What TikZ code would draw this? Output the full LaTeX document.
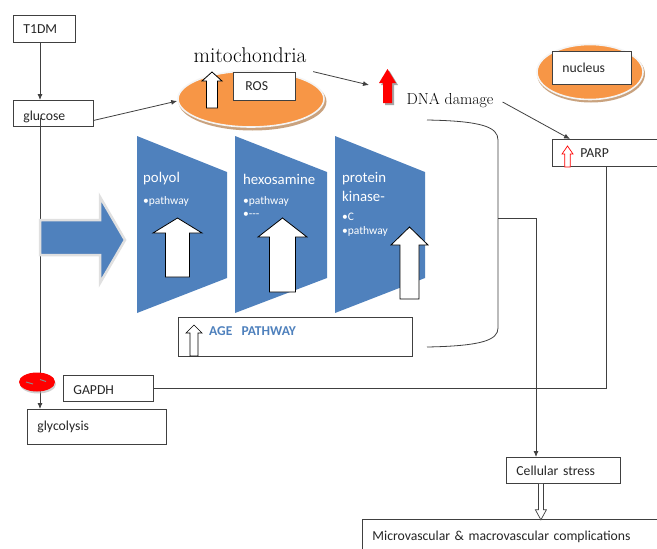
\documentclass[tikz,border=0pt]{standalone}
\usepackage{fontspec}
\newfontfamily\cfont{Carlito}
\usetikzlibrary{shapes.geometric,arrows.meta,calc}
\definecolor{pblue}{HTML}{4F81BD}
\definecolor{porange}{HTML}{F79646}
\definecolor{lc}{HTML}{404040}
\definecolor{tc}{HTML}{262626}
\definecolor{shd}{HTML}{C9A27E}
% #1 style, #2 x centre, #3 tip y, #4 head base y, #5 bottom y, #6 head half width, #7 shaft half width
\newcommand\hollowup[7]{%
  \draw[#1] (#2-#6,#4) -- (#2,#3) -- (#2+#6,#4) -- (#2+#7,#4) -- (#2+#7,#5) -- (#2-#7,#5) -- (#2-#7,#4) -- cycle;}
\tikzset{
  box/.style={draw=lc, line width=0.8pt, fill=white, rectangle, inner xsep=10pt, inner ysep=0pt,
    align=left, text=tc, font=\cfont\fontsize{13.7}{16}\selectfont, anchor=north west},
  conn/.style={draw=lc, line width=0.8pt},
  arr/.style={conn, -{Latex[length=6pt,width=5pt]}},
  ptext/.style={text=white, anchor=west, inner sep=0pt, font=\cfont\fontsize{14.8}{17}\selectfont},
  stext/.style={text=white, anchor=west, inner sep=0pt, font=\cfont\fontsize{11.5}{13}\selectfont},
  panel/.style={fill=pblue},
}
\begin{document}
\begin{tikzpicture}[x=1pt,y=-1pt]
\useasboundingbox (0,0) rectangle (657,549);
\fill[white] (0,0) rectangle (657,549);

% ---- boxes
\node[box, text width=42pt, minimum height=27pt] (t1dm) at (13,15) {T1DM};
\node[box, text width=60pt, minimum height=26pt, text height=16pt, text depth=2pt] (glucose) at (13,100) {glucose};
\node[box, text width=119pt, minimum height=35pt] (glycolysis) at (27,409) {glycolysis};
\node[box, text width=70pt, minimum height=26pt, text height=14pt, text depth=2pt] (gapdh) at (63,375) {GAPDH};
\node[box, text width=94pt, minimum height=26pt] (cs) at (506,457) {Cellular stress};
\node[box, text width=280pt, minimum height=34pt] (micro) at (362,519) {Microvascular \& macrovascular complications};
\node[box, inner xsep=28pt, text width=54pt, minimum height=27pt] (parp) at (552,139) {PARP};

% ---- trunk line and T1DM arrow
\draw[arr] ([xshift=27pt]t1dm.south west) -- ([xshift=27pt]glucose.north west);
\draw[arr] ([xshift=27pt,yshift=9pt]glucose.south west) -- ([xshift=13pt]glycolysis.north west);

% ---- mitochondria
\node[ellipse, fill=shd, minimum width=148pt, minimum height=58pt, inner sep=0pt] (mitoshadow) at (252.5,101.5) {};
\node[ellipse, fill=porange, draw=white!92!gray, line width=1.6pt, minimum width=146pt, minimum height=56pt, inner sep=0pt] (mito) at (251,99) {};
\node[box, inner xsep=12pt, text width=38pt, minimum height=28pt] (ros) at (233,72) {ROS};
\hollowup{draw=black, fill=white, line width=0.8pt}{212}{72}{81}{108}{10}{5.5}
\node[font=\fontsize{21.3}{24}\selectfont, inner sep=0pt] (mitolabel) at (250,55) {mitochondria};

\draw[arr] ([yshift=-7pt]glucose.east) -- ([yshift=-2pt]mito.west);

% ---- nucleus
\node[ellipse, fill=shd, minimum width=108pt, minimum height=57pt, inner sep=0pt] (nucshadow) at (591,74) {};
\node[ellipse, fill=porange, draw=white!92!gray, line width=1.6pt, minimum width=106pt, minimum height=55pt, inner sep=0pt] (nucleus) at (590,72) {};
\node[box, text width=59pt, minimum height=33pt] (nucbox) at (552,51) {nucleus};

% ---- red arrow and DNA damage
\coordinate (redtip) at (369,85);
\draw[arr] ([shift={(10pt,7pt)}]mito.north east) -- (redtip);
\hollowup{fill=black!35, draw=none}{389.5}{71}{85}{105}{8.5}{4.5}
\hollowup{fill=red, draw=none}{387.5}{69}{83}{103}{8.5}{4.5}
\node[font=\fontsize{15.9}{18}\selectfont, inner sep=0pt] (dna) at (450,100) {DNA damage};
\draw[arr] ([shift={(9pt,-2pt)}]dna.east) -- ([xshift=18pt]parp.north west);
\hollowup{draw=red, fill=white, line width=0.7pt}{567.5}{146}{154}{167}{5.5}{2.8}

% ---- blue pathway panels
\draw[fill=pblue, draw=black!12, line width=2.5pt, line join=miter] (40,220) -- (100,220) -- (100,197) -- (125,240) -- (100,283) -- (100,255) -- (40,255) -- cycle;
\fill[panel] (137,136) -- (227,172) -- (227,278) -- (137,313) -- cycle;
\fill[panel] (235,136) -- (327,172) -- (327,278) -- (235,313) -- cycle;
\fill[panel] (335,136) -- (425,172) -- (425,278) -- (335,313) -- cycle;

\node[ptext] (polyol) at (143,179) {polyol};
\node[stext] (polyolp) at (143,201) {•pathway};
\node[ptext] (hexo) at (243,179) {hexosamine};
\node[stext] (hexop) at (243,201) {•pathway};
\node[stext] (hexod) at (243,215) {•---};
\node[ptext] (prot) at (342,179) {protein};
\node[ptext] (kin) at (342,196) {kinase-};
\node[stext] (protc) at (342,217) {•C};
\node[stext] (protp) at (342,231) {•pathway};

\hollowup{draw=black, fill=white, line width=0.8pt}{177.5}{218}{233}{277}{24.5}{12}
\hollowup{draw=black, fill=white, line width=0.8pt}{282.5}{218}{237}{292}{24.5}{13}
\hollowup{draw=black, fill=white, line width=0.8pt}{409.5}{227}{245}{299}{18.5}{9.5}

% ---- AGE pathway
\node[box, minimum width=234pt, minimum height=39pt, inner sep=0pt] (age) at (178,317) {};
\node[anchor=west, inner sep=0pt, text=pblue, font=\cfont\bfseries\fontsize{13.5}{15}\selectfont] (agetext) at (209,331) {AGE\ \ \ PATHWAY};
\hollowup{draw=black, fill=white, line width=0.7pt}{194}{325}{333}{356}{8}{4}

% ---- bracket
\draw[conn] (427,120) .. controls (482,121) and (498,127) .. (498,140) -- (498,328) .. controls (498,340) and (482,346) .. (427,347);
\coordinate (brk) at (498,218);
\draw[arr] (brk) -| ([xshift=30pt]cs.north west);

% ---- GAPDH to PARP
\draw[conn] (gapdh.east) -| ([xshift=54pt]parp.south west);

% ---- inhibition ellipse
\node[ellipse, fill=black!30, minimum width=36pt, minimum height=19pt, inner sep=0pt, opacity=.6] (inhibshadow) at (38,384) {};
\node[ellipse, fill=red, minimum width=36pt, minimum height=19pt, inner sep=0pt] (inhib) at (37,382) {};
\draw[black!45, line width=1pt] (26,382) -- (33,384);
\draw[black!45, line width=1pt] (40,379.5) -- (46,381.5);

% ---- cellular stress to complications (double-line arrow)
\draw[lc, fill=white, line width=0.7pt] ([xshift=-25pt]cs.south) -- ++(0,26) -- ++(-3,0) -- ++(5.5,10) -- ++(5.5,-10) -- ++(-3,0) -- ([xshift=-20pt]cs.south);
\end{tikzpicture}
\end{document}
